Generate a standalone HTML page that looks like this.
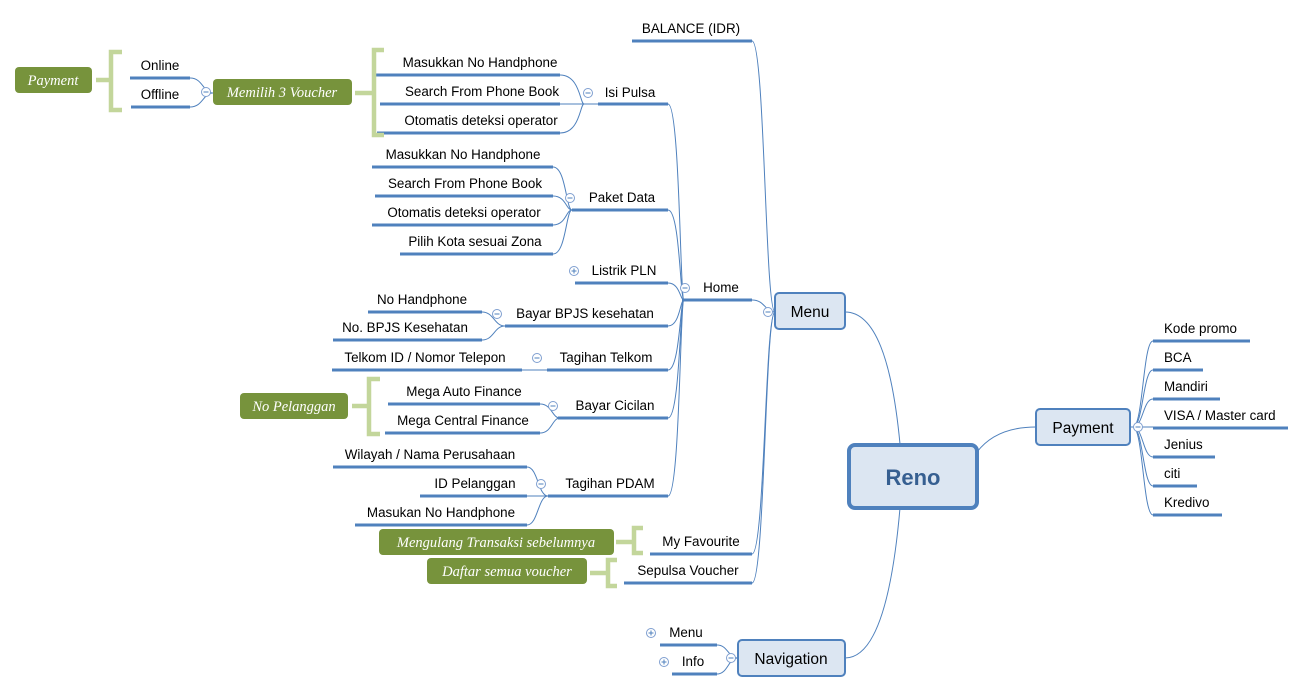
<!DOCTYPE html>
<html><head><meta charset="utf-8"><style>
html,body{margin:0;padding:0;background:#fff}
svg{display:block}
text{font-family:"Liberation Sans",Arial,sans-serif;font-size:13.4px;fill:#000}
.u{stroke:#4f81bd;stroke-width:3;fill:none}
.c{stroke:#4f81bd;stroke-width:1;fill:none}
.g{stroke:#c3d69b;stroke-width:4.5;fill:none}
.gb{fill:#77933c}
.gt{font-family:"Liberation Serif",serif;font-style:italic;font-size:14.5px;fill:#fff}
.bx{fill:#dce6f2;stroke:#4f81bd;stroke-width:2}
.ci{fill:#fff;stroke:#7f9fd0;stroke-width:1}
.m{stroke:#4f81bd;stroke-width:1}
</style></head><body>
<svg width="1305" height="694" viewBox="0 0 1305 694" xmlns="http://www.w3.org/2000/svg">
<g class="c">
<path d="M752,41 C765,41 765,312 775,312"/>
<path d="M752,300 C765,300 765,312 775,312"/>
<path d="M752,554 C765,554 765,312 775,312"/>
<path d="M752,583 C765,583 765,312 775,312"/>
<path d="M668,104 C680,104 680,300 684,300"/>
<path d="M668,210 C680,210 680,300 684,300"/>
<path d="M668,283 C680,283 680,300 684,300"/>
<path d="M668,326 C680,326 680,300 684,300"/>
<path d="M668,370 C680,370 680,300 684,300"/>
<path d="M668,418 C680,418 680,300 684,300"/>
<path d="M668,496 C680,496 680,300 684,300"/>
<path d="M560,75 C580,75 580,104 584,104"/>
<path d="M560,104 L598,104"/>
<path d="M560,133 C580,133 580,104 584,104"/>
<path d="M553,167 C566,167 566,210 572,210"/>
<path d="M553,196 C566,196 566,210 572,210"/>
<path d="M553,225 C566,225 566,210 572,210"/>
<path d="M553,254 C566,254 566,210 572,210"/>
<path d="M482,312 C494,312 494,326 505,326"/>
<path d="M482,340 C494,340 494,326 505,326"/>
<path d="M522,370 L547,370"/>
<path d="M540,404 C552,404 552,418 560,418"/>
<path d="M540,433 C552,433 552,418 560,418"/>
<path d="M527,467 C538,467 538,496 548,496"/>
<path d="M527,496 L548,496"/>
<path d="M527,525 C538,525 538,496 548,496"/>
<path d="M190,78 C203,78 203,93 213,93"/>
<path d="M190,107 C203,107 203,93 213,93"/>
<path d="M717,645 C728,645 728,658 738,658"/>
<path d="M717,674 C728,674 728,658 738,658"/>
<path d="M900,444 C892,360 875,312 845,312"/>
<path d="M900,508 C892,600 875,658 845,658"/>
<path d="M977,452 C990,435 1010,427 1036,427"/>
<path d="M1130,427 L1153,427"/>
<path d="M1133,427 C1143,427 1143,341 1153,341"/>
<path d="M1133,427 C1143,427 1143,370 1153,370"/>
<path d="M1133,427 C1143,427 1143,399 1153,399"/>
<path d="M1133,427 C1143,427 1143,457 1153,457"/>
<path d="M1133,427 C1143,427 1143,486 1153,486"/>
<path d="M1133,427 C1143,427 1143,515 1153,515"/>
</g>
<g class="u">
<path d="M632,41H752M598,104H668M375,75H560M380,104H560M377,133H560"/>
<path d="M572,210H668M372,167H553M375,196H553M372,225H553M400,254H553"/>
<path d="M575,283H668M682,300H752M505,326H668M368,312H482M333,340H482"/>
<path d="M547,370H668M332,370H522M558,418H668M388,404H540M385,433H540"/>
<path d="M548,496H668M333,467H527M420,496H527M355,525H527"/>
<path d="M650,554H752M624,583H752"/>
<path d="M130,78H190M131,107H190"/>
<path d="M660,645H717M672,674H717"/>
<path d="M1153,341H1250M1153,370H1203M1153,399H1220M1153,428H1288M1153,457H1215M1153,486H1197M1153,515H1222"/>
</g>
<g class="g">
<path d="M384,50H374V135H384M374,93H355"/>
<path d="M122,52H111V110H122M111,80H96"/>
<path d="M380,379H369V434H380M369,406H352"/>
<path d="M643,528H634V553H643M634,542H616"/>
<path d="M617,560H608V586H617M608,573H590"/>
</g>
<rect class="gb" x="15" y="67" width="77" height="26" rx="4"/>
<text class="gt" x="53" y="85" text-anchor="middle">Payment</text>
<rect class="gb" x="213" y="79" width="139" height="26" rx="4"/>
<text class="gt" x="282" y="97" text-anchor="middle">Memilih 3 Voucher</text>
<rect class="gb" x="240" y="393" width="108" height="26" rx="4"/>
<text class="gt" x="294" y="411" text-anchor="middle">No Pelanggan</text>
<rect class="gb" x="379" y="529" width="235" height="26" rx="4"/>
<text class="gt" x="496" y="547" text-anchor="middle">Mengulang Transaksi sebelumnya</text>
<rect class="gb" x="427" y="558" width="160" height="26" rx="4"/>
<text class="gt" x="507" y="576" text-anchor="middle">Daftar semua voucher</text>
<rect class="bx" x="775" y="293" width="70" height="36" rx="4"/>
<text x="810" y="317" text-anchor="middle" style="font-size:15.5px">Menu</text>
<rect class="bx" x="1036" y="409" width="94" height="36" rx="4"/>
<text x="1083" y="433" text-anchor="middle" style="font-size:15.5px">Payment</text>
<rect class="bx" x="738" y="640" width="107" height="36" rx="4"/>
<text x="791" y="664" text-anchor="middle" style="font-size:15.5px">Navigation</text>
<rect x="849" y="445" width="128" height="63" rx="6" style="fill:#dce6f2;stroke:#4f81bd;stroke-width:4"/>
<text x="913" y="485" text-anchor="middle" style="font-size:22px;font-weight:bold;fill:#365f91">Reno</text>
<g>
<text x="691" y="33" text-anchor="middle">BALANCE (IDR)</text>
<text x="630" y="97" text-anchor="middle">Isi Pulsa</text>
<text x="480" y="67" text-anchor="middle">Masukkan No Handphone</text>
<text x="482" y="96" text-anchor="middle">Search From Phone Book</text>
<text x="481" y="125" text-anchor="middle">Otomatis deteksi operator</text>
<text x="622" y="202" text-anchor="middle">Paket Data</text>
<text x="463" y="159" text-anchor="middle">Masukkan No Handphone</text>
<text x="465" y="188" text-anchor="middle">Search From Phone Book</text>
<text x="464" y="217" text-anchor="middle">Otomatis deteksi operator</text>
<text x="475" y="246" text-anchor="middle">Pilih Kota sesuai Zona</text>
<text x="624" y="275" text-anchor="middle">Listrik PLN</text>
<text x="721" y="292" text-anchor="middle">Home</text>
<text x="585" y="318" text-anchor="middle">Bayar BPJS kesehatan</text>
<text x="422" y="304" text-anchor="middle">No Handphone</text>
<text x="405" y="332" text-anchor="middle">No. BPJS Kesehatan</text>
<text x="606" y="362" text-anchor="middle">Tagihan Telkom</text>
<text x="425" y="362" text-anchor="middle">Telkom ID / Nomor Telepon</text>
<text x="615" y="410" text-anchor="middle">Bayar Cicilan</text>
<text x="464" y="396" text-anchor="middle">Mega Auto Finance</text>
<text x="463" y="425" text-anchor="middle">Mega Central Finance</text>
<text x="610" y="488" text-anchor="middle">Tagihan PDAM</text>
<text x="430" y="459" text-anchor="middle">Wilayah / Nama Perusahaan</text>
<text x="475" y="488" text-anchor="middle">ID Pelanggan</text>
<text x="441" y="517" text-anchor="middle">Masukan No Handphone</text>
<text x="701" y="546" text-anchor="middle">My Favourite</text>
<text x="688" y="575" text-anchor="middle">Sepulsa Voucher</text>
<text x="160" y="70" text-anchor="middle">Online</text>
<text x="160" y="99" text-anchor="middle">Offline</text>
<text x="686" y="637" text-anchor="middle">Menu</text>
<text x="693" y="666" text-anchor="middle">Info</text>
<text x="1164" y="333">Kode promo</text>
<text x="1164" y="362">BCA</text>
<text x="1164" y="391">Mandiri</text>
<text x="1164" y="420">VISA / Master card</text>
<text x="1164" y="449">Jenius</text>
<text x="1164" y="478">citi</text>
<text x="1164" y="507">Kredivo</text>
</g>
<g>
<circle class="ci" cx="588" cy="93" r="4.5"/><path class="m" d="M585.5,93H590.5"/>
<circle class="ci" cx="570" cy="198" r="4.5"/><path class="m" d="M567.5,198H572.5"/>
<circle class="ci" cx="574" cy="271" r="4.5"/><path class="m" d="M571.5,271H576.5M574,268.5V273.5"/>
<circle class="ci" cx="685" cy="288" r="4.5"/><path class="m" d="M682.5,288H687.5"/>
<circle class="ci" cx="497" cy="314" r="4.5"/><path class="m" d="M494.5,314H499.5"/>
<circle class="ci" cx="537" cy="358" r="4.5"/><path class="m" d="M534.5,358H539.5"/>
<circle class="ci" cx="553" cy="406" r="4.5"/><path class="m" d="M550.5,406H555.5"/>
<circle class="ci" cx="541" cy="484" r="4.5"/><path class="m" d="M538.5,484H543.5"/>
<circle class="ci" cx="768" cy="312" r="4.5"/><path class="m" d="M765.5,312H770.5"/>
<circle class="ci" cx="206" cy="92" r="4.5"/><path class="m" d="M203.5,92H208.5"/>
<circle class="ci" cx="1138" cy="427" r="4.5"/><path class="m" d="M1135.5,427H1140.5"/>
<circle class="ci" cx="731" cy="658" r="4.5"/><path class="m" d="M728.5,658H733.5"/>
<circle class="ci" cx="651" cy="633" r="4.5"/><path class="m" d="M648.5,633H653.5M651,630.5V635.5"/>
<circle class="ci" cx="664" cy="662" r="4.5"/><path class="m" d="M661.5,662H666.5M664,659.5V664.5"/>
</g>
</svg>
</body></html>
